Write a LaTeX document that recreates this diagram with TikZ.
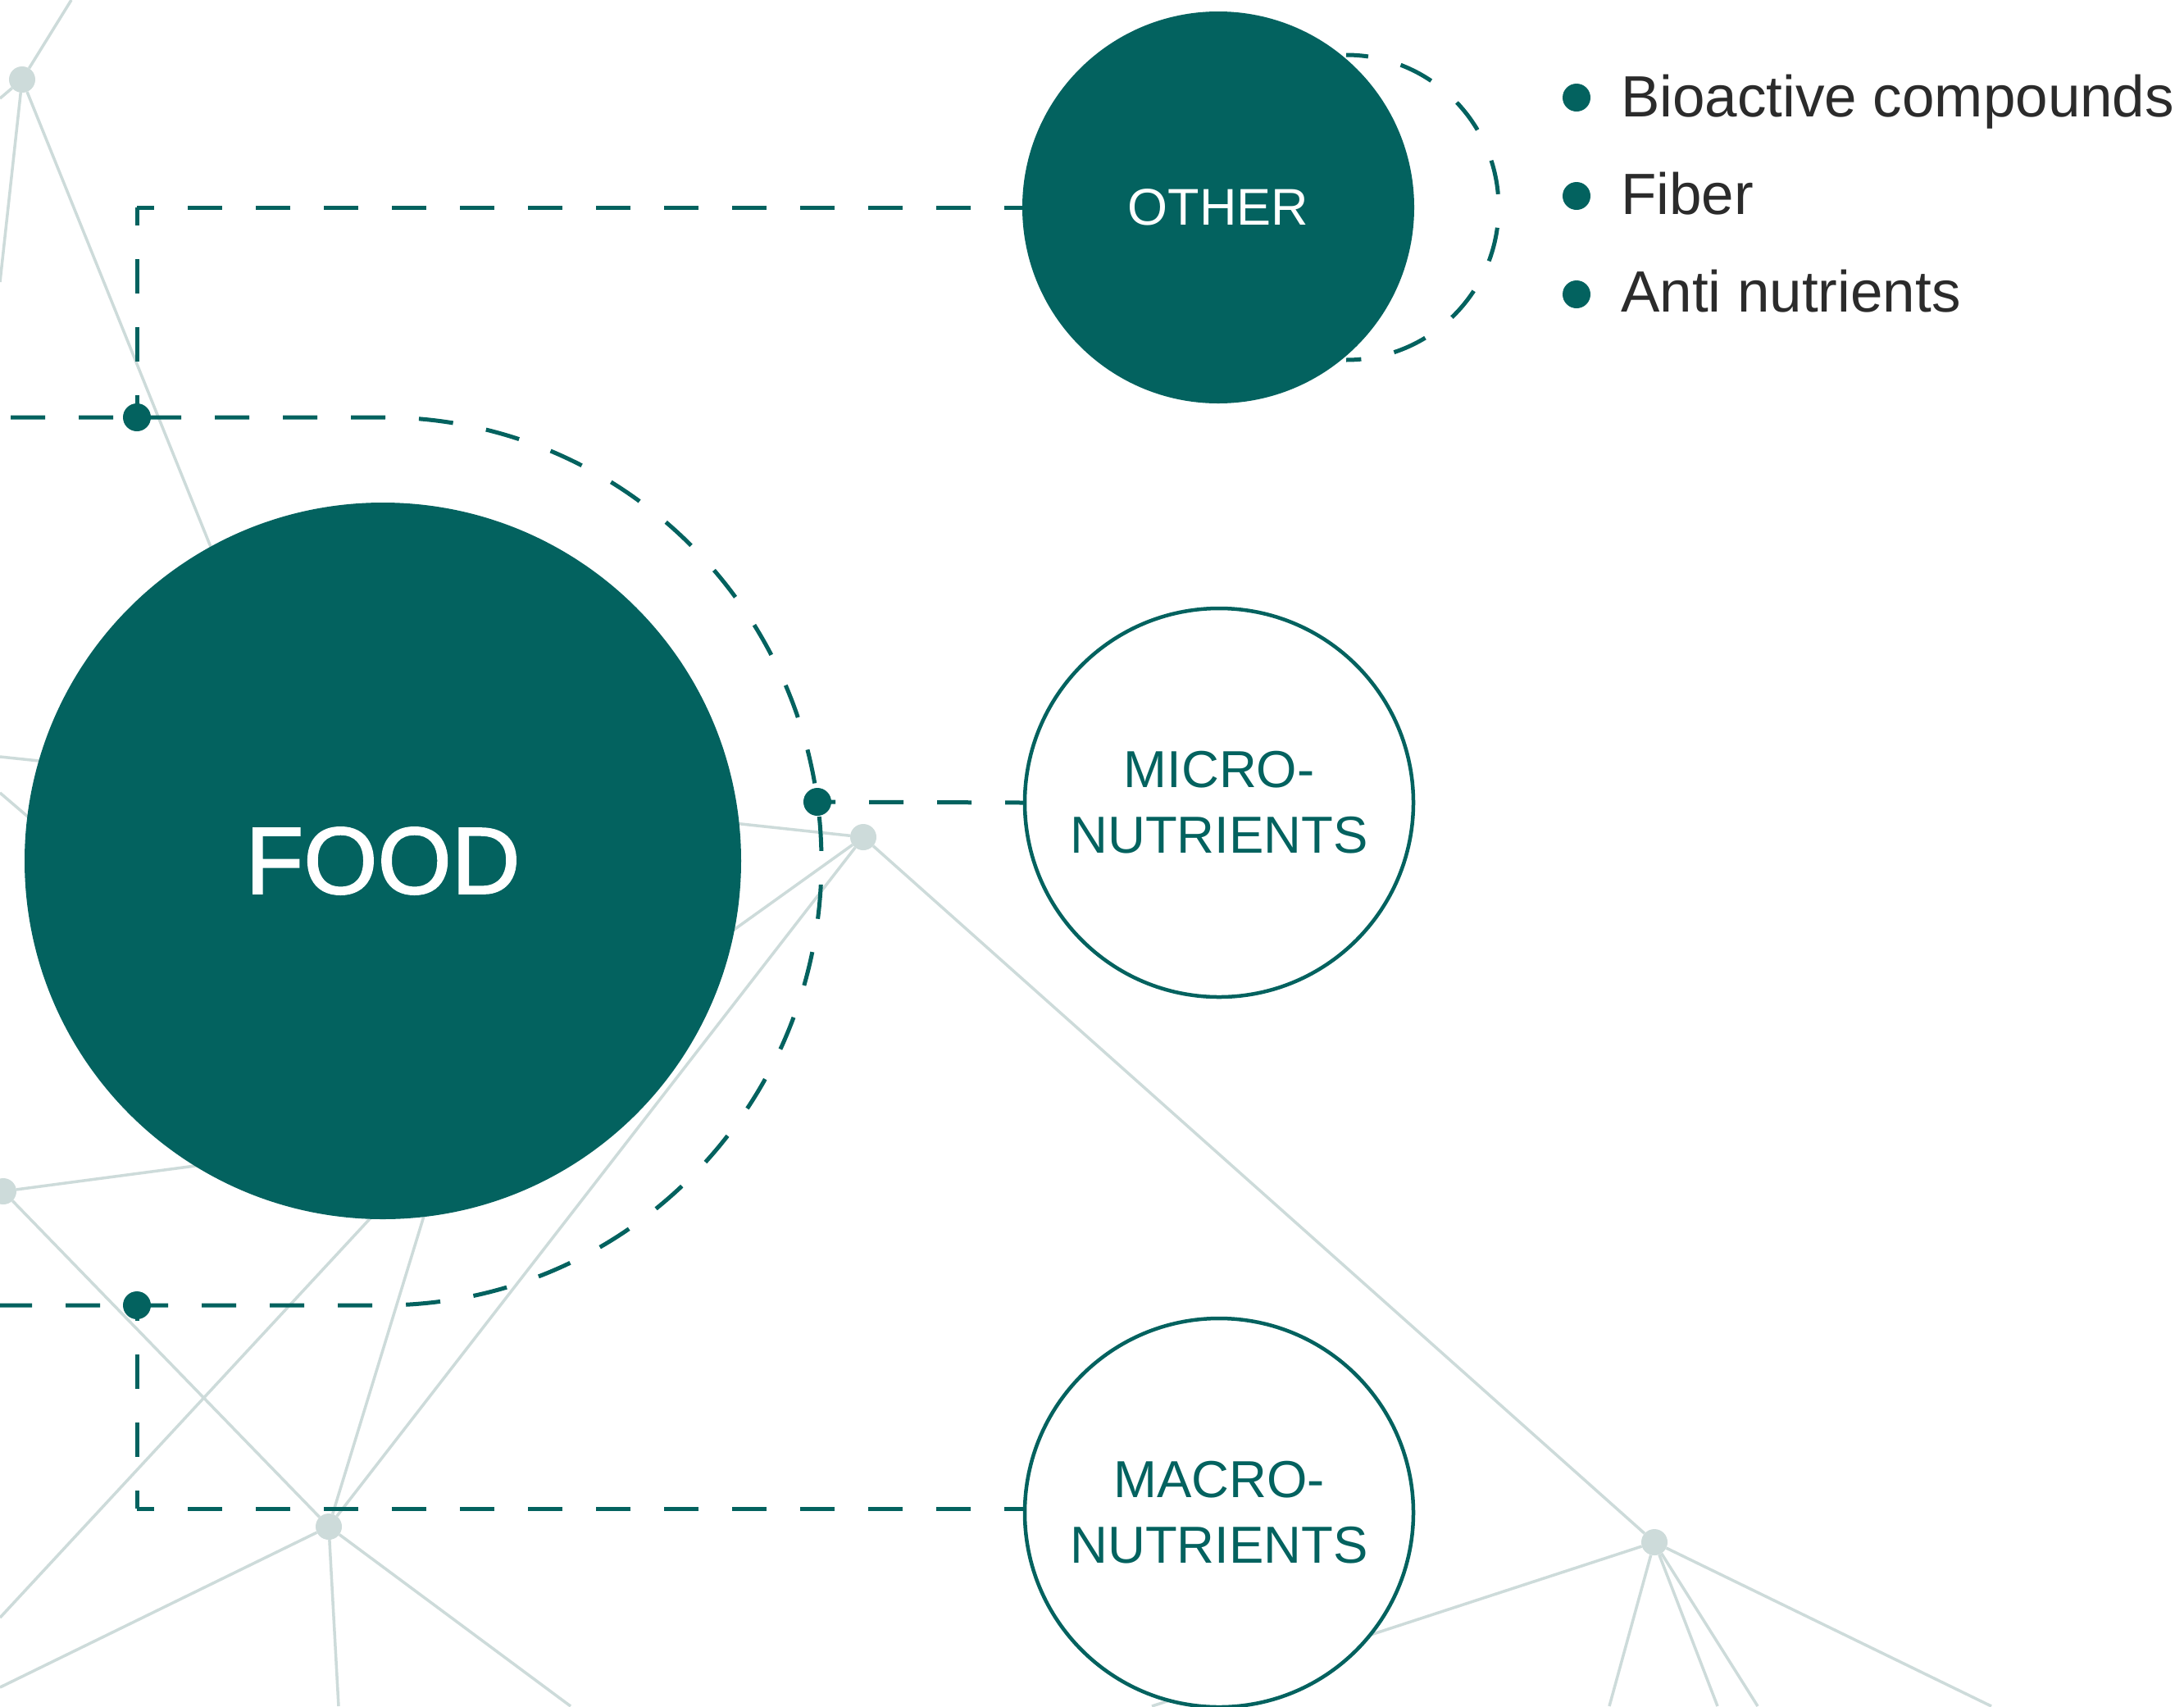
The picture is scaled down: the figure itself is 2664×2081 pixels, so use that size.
\documentclass[tikz,border=0pt]{standalone}
\usepackage{fontspec}
\setmainfont{Liberation Sans}
\newfontfamily\foodfont[FakeBold=1.6]{Liberation Sans}
\usetikzlibrary{backgrounds}
\definecolor{teal1}{HTML}{03625F}
\definecolor{net}{HTML}{CDDBDA}
\definecolor{ink}{HTML}{2B2B2B}
\begin{document}
\begin{tikzpicture}[x=1pt,y=-1pt,
  netline/.style={draw=net,line width=3.5pt},
  netnode/.style={circle,fill=net,inner sep=0pt,minimum size=32pt},
  dashline/.style={draw=teal1,line width=5pt,dash pattern=on 42pt off 41pt},
  tdot/.style={circle,fill=teal1,inner sep=0pt,minimum size=34pt},
  bigc/.style={circle,fill=teal1,inner sep=0pt,text=white},
  ringc/.style={circle,draw=teal1,fill=white,line width=4.5pt,inner sep=0pt,minimum size=474pt,text=teal1,align=center,font=\fontsize{63.5}{80}\selectfont},
  legtext/.style={anchor=base west,inner sep=0pt,text=ink,font=\fontsize{71}{71}\selectfont},
]
\clip (0,0) rectangle (2664,2081);

% main circles
\node[bigc,minimum size=874pt,font=\foodfont\fontsize{116}{116}\selectfont] (food) at (467,1050) {FOOD};
\node[bigc,minimum size=478pt,font=\fontsize{63}{63}\selectfont] (other) at (1486,253) {OTHER};
\node[ringc] (micro) at (1487,979) {MICRO-\\NUTRIENTS};
\node[ringc] (macro) at (1487,1845) {MACRO-\\NUTRIENTS};

% network hubs
\node[netnode] (n1) at (27,97) {};
\node[netnode] (n2) at (1053,1021) {};
\node[netnode] (n3) at (4,1453) {};
\node[netnode] (n4) at (401,1862) {};
\node[netnode] (n5) at (2018,1881) {};

% teal junction dots
\node[tdot] (d1) at (167,509) {};
\node[tdot] (d2) at (167,1592) {};
\node[tdot] (d3) at (997,978) {};

% free ends and hidden ends
\coordinate (e1) at (87,0);
\coordinate (e2) at (0,120);
\coordinate (e3) at (0,344);
\coordinate (e4) at (0,923);
\coordinate (e5) at (0,967);
\coordinate (e6) at (0,1973);
\coordinate (e7) at (0,2058);
\coordinate (e8) at (413,2081);
\coordinate (e9) at (696,2081);
\coordinate (e10) at (1405,2081);
\coordinate (e11) at (1963,2081);
\coordinate (e12) at (2095,2081);
\coordinate (e13) at (2144,2081);
\coordinate (e14) at (2429,2081);
\coordinate (h1) at (372,952);
\coordinate (h2) at (400,965);
\coordinate (h3) at (300,1224);
\coordinate (h4) at (600,1374);
\coordinate (h5) at (600,1326);
\coordinate (h6) at (560,1343);
\coordinate (h7) at (700,983);
\coordinate (h8) at (750,1238);

% dashed connector points
\coordinate (ftl) at (0,509);
\coordinate (fbl) at (0,1592);
\coordinate (atop) at (467,509);
\coordinate (c1) at (167,253);
\coordinate (c2) at (167,1840);
\coordinate (otop) at (1642,67);

\begin{scope}[on background layer]
  \fill[white] (0,0) rectangle (2664,2081);
  % network lines
  \draw[netline] (n1) -- (e1);
  \draw[netline] (n1) -- (e2);
  \draw[netline] (n1) -- (e3);
  \draw[netline] (n1) -- (h1);
  \draw[netline] (e4) -- (h2);
  \draw[netline] (e5) -- (h3);
  \draw[netline] (n3) -- (h4);
  \draw[netline] (n3) -- (n4);
  \draw[netline] (e6) -- (h5);
  \draw[netline] (n4) -- (h6);
  \draw[netline] (n4) -- (e7);
  \draw[netline] (n4) -- (e8);
  \draw[netline] (n4) -- (e9);
  \draw[netline] (n2) -- (n4);
  \draw[netline] (n2) -- (n5);
  \draw[netline] (n2) -- (h7);
  \draw[netline] (n2) -- (h8);
  \draw[netline] (n5) -- (e10);
  \draw[netline] (n5) -- (e11);
  \draw[netline] (n5) -- (e12);
  \draw[netline] (n5) -- (e13);
  \draw[netline] (n5) -- (e14);
  % dashed connectors
  \draw[dashline,dash phase=70] (ftl) -- (atop) arc[start angle=-90,end angle=90,x radius=535,y radius=541.5] -- (fbl);
  \draw[dashline,dash phase=20] (c1) -- (d1.center);
  \draw[dashline,dash phase=21] (c1) -- (other.west);
  \draw[dashline,dash phase=20] (c2) -- (d2.center);
  \draw[dashline,dash phase=21] (c2) -- (c2 -| macro.west);
  \draw[dashline,dash phase=20] (d3.center) -- (micro.west);
  \draw[dashline,dash phase=15] (otop) arc[start angle=-90,end angle=90,radius=186];
\end{scope}

% legend
\node[tdot] (b1) at (1923,119) {};
\node[tdot] (b2) at (1923,239) {};
\node[tdot] (b3) at (1923,359) {};
\node[legtext] (t1) at (1977,142) {Bioactive compounds};
\node[legtext] (t2) at (1977,261) {Fiber};
\node[legtext] (t3) at (1977,380) {Anti nutrients};
\end{tikzpicture}
\end{document}
